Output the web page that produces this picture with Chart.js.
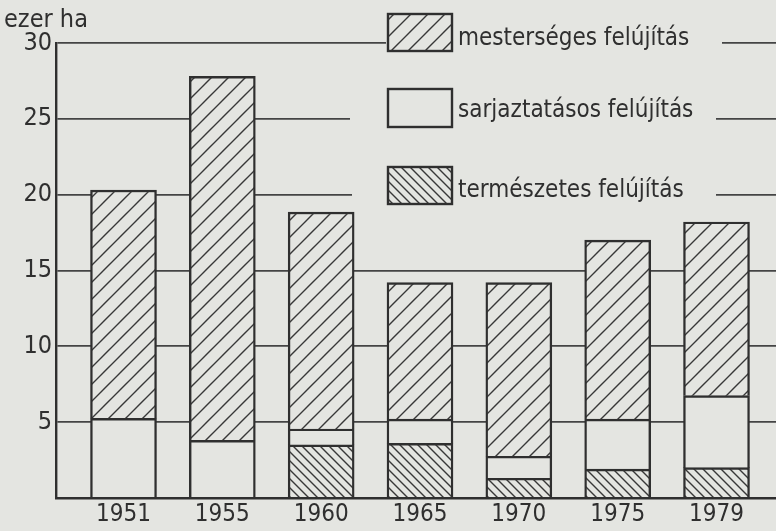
<!DOCTYPE html>
<html lang="hu">
<head>
<meta charset="utf-8">
<title>Erdőfelújítás</title>
<script src="https://cdn.jsdelivr.net/npm/chart.js@4.4.1/dist/chart.umd.min.js"></script>
<style>
  html, body { margin: 0; padding: 0; background: #e4e5e1; }
  .wrap { width: 776px; height: 531px; position: relative; }
</style>
</head>
<body>
<div class="wrap"><canvas id="erdoChart"></canvas></div>
<script>
// Felújítás évenként (ezer ha)
const years         = ['1951', '1955', '1960', '1965', '1970', '1975', '1979'];
const termeszetes   = [0, 0, 3.5, 3.6, 1.3, 1.9, 2.0];
const sarjaztatasos = [5.25, 3.8, 1.05, 1.6, 1.45, 3.3, 4.75];
const mesterseges   = [15.05, 24.0, 14.3, 9.0, 11.45, 11.8, 11.45];
const yTicks        = [5, 10, 15, 20, 25, 30];
const seriesNames   = ['mesterséges felújítás', 'sarjaztatásos felújítás', 'természetes felújítás'];

const paper = '#e4e5e1';
const ink   = '#2f2f2f';
const family = "'Liberation Sans Narrow', 'DejaVu Sans Condensed', 'Liberation Sans', sans-serif";

const canvas = document.getElementById('erdoChart');
const ctx = canvas.getContext('2d');

// Vonalkázás mintázat: '/' vagy '\'
function hatch(period, dir) {
  const c = document.createElement('canvas');
  c.width = period;
  c.height = period;
  const g = c.getContext('2d');
  g.fillStyle = paper;
  g.fillRect(0, 0, period, period);
  g.strokeStyle = '#383838';
  g.lineWidth = 1.4;
  g.beginPath();
  if (dir === '/') {
    g.moveTo(-1, period + 1); g.lineTo(period + 1, -1);
    g.moveTo(-1, 1); g.lineTo(1, -1);
    g.moveTo(period - 1, period + 1); g.lineTo(period + 1, period - 1);
  } else {
    g.moveTo(-1, -1); g.lineTo(period + 1, period + 1);
    g.moveTo(period - 1, -1); g.lineTo(period + 1, 1);
    g.moveTo(-1, period - 1); g.lineTo(1, period + 1);
  }
  g.stroke();
  return ctx.createPattern(c, 'repeat');
}

const fills = [hatch(17, '/'), paper, hatch(9, '\\')];

// Jelmagyarázat + tengelyfelirat kézzel, a régi ábra szerint
const legendPlugin = {
  id: 'jelmagyarazat',
  afterDraw(chart) {
    const c = chart.ctx;
    const boxTop = [14, 89, 167];
    const boxH   = [37, 38, 37];
    const textY  = [45, 117, 197];
    const cover  = [[386, 6, 336, 52], [350, 84, 366, 48], [352, 162, 364, 46]];
    c.save();
    c.fillStyle = ink;
    c.font = '25px ' + family;
    c.textBaseline = 'alphabetic';
    c.fillText('ezer ha', 4, 27);

    seriesNames.forEach((name, i) => {
      const [cx, cy, cw, ch] = cover[i];
      c.fillStyle = paper;
      c.fillRect(cx, cy, cw, ch);
      c.fillStyle = fills[i];
      c.fillRect(388, boxTop[i], 64, boxH[i]);
      c.strokeStyle = ink;
      c.lineWidth = 2.4;
      c.strokeRect(388, boxTop[i], 64, boxH[i]);
      c.fillStyle = ink;
      c.font = '24px ' + family;
      c.fillText(name, 458, textY[i]);
    });
    c.restore();
  }
};

const toPoints = arr => arr.map((v, i) => ({ x: i, y: v }));

new Chart(ctx, {
  type: 'bar',
  data: {
    datasets: [
      { label: seriesNames[2], data: toPoints(termeszetes),   backgroundColor: fills[2] },
      { label: seriesNames[1], data: toPoints(sarjaztatasos), backgroundColor: fills[1] },
      { label: seriesNames[0], data: toPoints(mesterseges),   backgroundColor: fills[0] }
    ].map(ds => ({ ...ds, borderColor: ink, borderWidth: 2.4, borderSkipped: 'start', barThickness: 66 }))
  },
  options: {
    responsive: true,
    maintainAspectRatio: false,
    animation: false,
    layout: { padding: { top: 43, right: 0, bottom: 0, left: 0 } },
    plugins: { legend: { display: false }, tooltip: { enabled: false } },
    scales: {
      x: {
        type: 'linear',
        stacked: true,
        offset: false,
        min: -0.683,
        max: 6.602,
        grid: { display: false, drawTicks: false },
        border: { display: true, color: ink, width: 2.4, z: 1 },
        afterBuildTicks: scale => { scale.ticks = years.map((_, i) => ({ value: i })); },
        afterFit: scale => { scale.height = 33; },
        ticks: {
          callback: v => years[v],
          color: ink,
          font: { family, size: 24 },
          padding: 2,
          maxRotation: 0,
          autoSkip: false
        }
      },
      y: {
        stacked: true,
        min: 0,
        max: 30,
        afterBuildTicks: scale => { scale.ticks = yTicks.map(v => ({ value: v })); },
        afterFit: scale => { scale.width = 56; },
        grid: { color: '#444444', lineWidth: 1.8, drawTicks: false },
        border: { display: true, color: ink, width: 2.4, z: 1 },
        ticks: { color: ink, font: { family, size: 25 }, padding: 4 }
      }
    }
  },
  plugins: [legendPlugin]
});
</script>
</body>
</html>
